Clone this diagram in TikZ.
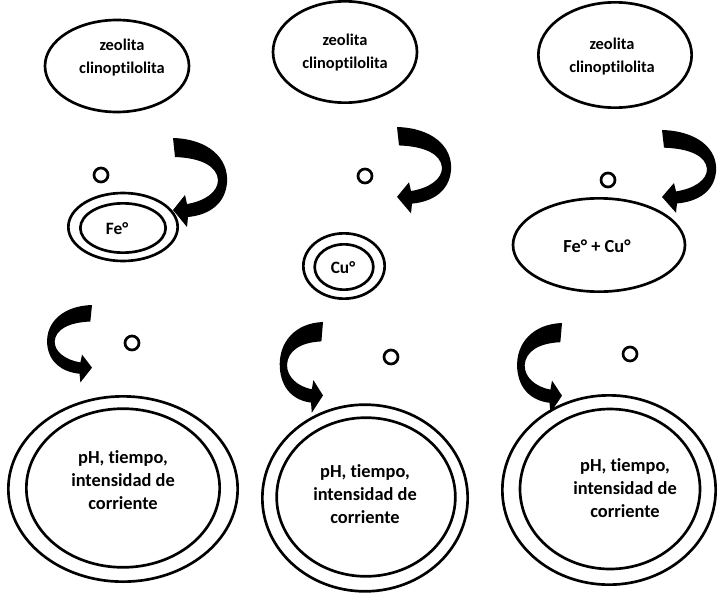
\documentclass[tikz,border=0pt]{standalone}
\usepackage{fontspec}
\setmainfont{Carlito}[Ligatures=NoCommon]
\usetikzlibrary{shapes.geometric}
\tikzset{
  ell/.style={draw=black, line width=2pt, ellipse, inner sep=0pt},
  ring/.style={draw=black, line width=2pt, circle, minimum size=10.5pt, inner sep=0pt},
  lbl/.style={font=\bfseries\fontsize{12.3}{17.3}\selectfont, align=center, inner sep=0pt},
  lblbig/.style={font=\bfseries\fontsize{13.8}{17.3}\selectfont, align=center, inner sep=0pt},
  lblmid/.style={font=\bfseries\fontsize{13}{16}\selectfont, align=center, inner sep=0pt},
  pics/bentarrow/.style={code={
    \fill[black] (0,0) .. controls (35,1) and (56,20) .. (54,45)
      .. controls (52,66) and (36,77) .. (15,79)
      -- (14,89) -- (0,72) -- (12,57) -- (14,66)
      .. controls (32,63) and (45,54) .. (45,42)
      .. controls (44,28) and (28,20) .. (2,19) -- cycle;
  }}
}
\begin{document}
\begin{tikzpicture}[x=0.75pt, y=-0.75pt]
\fill[white] (0,0) rectangle (727,592);
\useasboundingbox (0,0) rectangle (727,592);

% top ellipses
\node[ell, minimum width=108pt, minimum height=69pt] (z1) at (117,66) {};
\node[ell, minimum width=108pt, minimum height=76pt] (z2) at (345,52) {};
\node[ell, minimum width=115pt, minimum height=79pt] (z3) at (615,55) {};
\node[lbl] (z1t) at (122,58) {zeolita\\clinoptilolita};
\node[lbl] (z2t) at (345,53) {zeolita\\clinoptilolita};
\node[lbl] (z3t) at (612,57) {zeolita\\clinoptilolita};

% small rings
\node[ring] (r1) at (101,175) {};
\node[ring] (r2) at (365,176) {};
\node[ring] (r3) at (608,180) {};
\node[ring] (r4) at (132,343) {};
\node[ring] (r5) at (391,357) {};
\node[ring] (r6) at (630,354) {};

% middle ellipses
\node[ell, minimum width=82pt, minimum height=51pt] (fo) at (123,227) {};
\node[ell, minimum width=64pt, minimum height=37pt] (fi) at (123,228) {};
\node[lblmid] (ft) at (117,229) {Fe°};
\node[ell, minimum width=61pt, minimum height=49pt] (co) at (344,266) {};
\node[ell, minimum width=44pt, minimum height=34pt] (ci) at (344,267) {};
\node[lblmid] (ct) at (343,268) {Cu°};
\node[ell, minimum width=129pt, minimum height=70pt] (fc) at (599,245) {};
\node[lblbig] (fct) at (597,246) {Fe° + Cu°};

% bottom double ellipses
\node[ell, minimum width=172pt, minimum height=139pt] (b1o) at (123,489) {};
\node[ell, minimum width=145pt, minimum height=119pt] (b1i) at (123,488) {};
\node[lblbig] (b1t) at (123,480) {pH, tiempo,\\intensidad de\\corriente};
\node[ell, minimum width=154pt, minimum height=140pt] (b2o) at (365,498) {};
\node[ell, minimum width=134pt, minimum height=119pt] (b2i) at (366,497) {};
\node[lblbig] (b2t) at (365,494) {pH, tiempo,\\intensidad de\\corriente};
\node[ell, minimum width=160pt, minimum height=142pt] (b3o) at (609,490) {};
\node[ell, minimum width=135pt, minimum height=120pt] (b3i) at (610,489) {};
\node[lblbig] (b3t) at (625,488) {pH, tiempo,\\intensidad de\\corriente};

% bent arrows
\pic at (173,138) {bentarrow};
\pic[yscale=0.97] at (397,127) {bentarrow};
\pic[yscale=0.93] at (662,130) {bentarrow};
\pic[xscale=-0.83, yscale=0.87] at (92,305) {bentarrow};
\pic[xscale=-0.80, yscale=1.02] at (323,322) {bentarrow};
\pic[xscale=-0.83, yscale=1.01] at (562,323) {bentarrow};
\end{tikzpicture}
\end{document}
